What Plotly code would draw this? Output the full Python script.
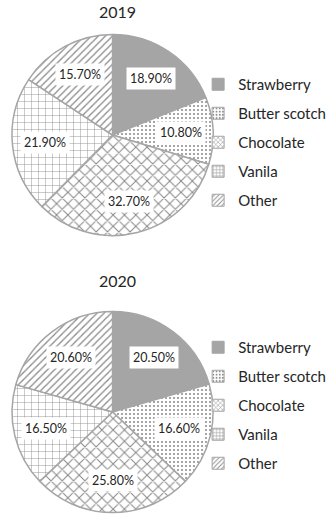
import math
import plotly.graph_objects as go

categories = ["Strawberry", "Butter scotch", "Chocolate", "Vanila", "Other"]
values_2019 = [18.9, 10.8, 32.7, 21.9, 15.7]
values_2020 = [20.5, 16.6, 25.8, 16.5, 20.6]
years = ["2019", "2020"]

W, H = 333, 517
FONT = "Lato"
slice_colors = ["#A5A5A5", "white", "white", "white", "white"]
pat_shapes = ["", ".", "x", "+", "/"]
pat_sizes = [6, 4, 8, 7, 5]
pat_solid = [0.3, 0.2, 0.24, 0.12, 0.25]

domains = [
    dict(x=[0.036, 0.640], y=[0.5416, 0.936]),
    dict(x=[0.036, 0.640], y=[0.006, 0.400]),
]
title_px = [11, 280]
legend_top_px = [68, 331]
legend_names = ["legend", "legend2"]

fig = go.Figure()
annotations = []
for k, (year, vals) in enumerate(zip(years, [values_2019, values_2020])):
    dom = domains[k]
    fig.add_trace(go.Pie(
        labels=categories, values=vals, sort=False, direction="clockwise",
        rotation=0, domain=dom, textinfo="none", showlegend=False,
        marker=dict(colors=slice_colors, line=dict(color="#A5A5A5", width=1.5),
                    pattern=dict(shape=pat_shapes, size=pat_sizes, solidity=pat_solid,
                                 fgcolor="#111111", fillmode="overlay")),
        hovertemplate="%{label}: %{value:.2f}%<extra>" + year + "</extra>",
    ))
    # legend entries
    for i, cat in enumerate(categories):
        fig.add_trace(go.Bar(
            x=[None], y=[None], name=cat, legend=legend_names[k],
            legendgroup=f"{year}-{cat}", showlegend=True,
            marker=dict(color=slice_colors[i], line=dict(color="#A5A5A5", width=1),
                        pattern=dict(shape=pat_shapes[i], size=4, solidity=0.3,
                                     fgcolor="#1a1a1a", fillmode="overlay")),
        ))
    # label geometry derived from the pie domain and the values
    cx = (dom["x"][0] + dom["x"][1]) / 2
    cy = (dom["y"][0] + dom["y"][1]) / 2
    R = min((dom["x"][1] - dom["x"][0]) * W, (dom["y"][1] - dom["y"][0]) * H) / 2
    cum = 0.0
    total = sum(vals)
    for v in vals:
        mid = (cum + v / 2) / total
        cum += v
        ang = math.radians(90 - 360 * mid)
        r = 0.68 * R
        annotations.append(dict(
            x=cx + r * math.cos(ang) / W, y=cy + r * math.sin(ang) / H,
            xref="paper", yref="paper", showarrow=False,
            xanchor="center", yanchor="middle",
            text=f"{v:.2f}%", bgcolor="white", borderpad=3,
            font=dict(family=FONT, size=12.5, color="#262626"),
        ))
    annotations.append(dict(
        x=cx + 0.014, y=1 - title_px[k] / H, xref="paper", yref="paper",
        showarrow=False, text=year, xanchor="center", yanchor="middle",
        font=dict(family=FONT, size=16, color="#262626"),
    ))

leg_common = dict(xanchor="left", yanchor="top", tracegroupgap=6.5,
                  font=dict(family=FONT, size=15, color="#262626"),
                  bgcolor="rgba(0,0,0,0)", itemclick=False, itemdoubleclick=False,
                  traceorder="grouped")
fig.update_layout(
    width=W, height=H, margin=dict(l=0, r=0, t=0, b=0),
    paper_bgcolor="white", plot_bgcolor="white",
    xaxis=dict(visible=False), yaxis=dict(visible=False),
    legend=dict(x=0.595, y=1 - legend_top_px[0] / H, **leg_common),
    legend2=dict(x=0.595, y=1 - legend_top_px[1] / H, **leg_common),
    annotations=annotations,
)
fig.write_html("out.html")
